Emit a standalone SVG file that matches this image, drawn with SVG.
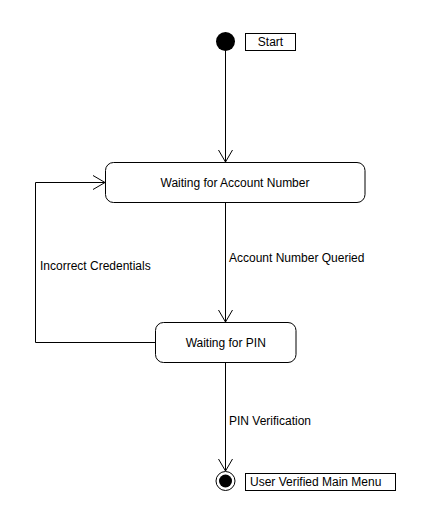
<svg xmlns="http://www.w3.org/2000/svg" width="424" height="523" viewBox="0 0 424 523">
<defs>
<marker id="arr" viewBox="0 0 14 16" refX="13" refY="8" markerWidth="14" markerHeight="16" markerUnits="userSpaceOnUse" orient="auto">
<path d="M1,1 L13,8 L1,15" fill="none" stroke="#000" stroke-width="1"/>
</marker>
<style>
text{font-family:"Liberation Sans",Arial,sans-serif;font-size:12px;fill:#000}
.state{fill:#fff;stroke:#000;stroke-width:1}
.note{fill:#fff;stroke:#000;stroke-width:1}
.edge{fill:none;stroke:#000;stroke-width:1}
</style>
</defs>
<rect width="424" height="523" fill="#fff"/>
<g id="edges">
<path class="edge" d="M225.5,50.5 L225.5,162" marker-end="url(#arr)"/>
<path class="edge" d="M225.5,202.5 L225.5,322" marker-end="url(#arr)"/>
<path class="edge" d="M155.5,342.5 L35.5,342.5 L35.5,182.5 L105,182.5" marker-end="url(#arr)"/>
<path class="edge" d="M225.5,362.5 L225.5,471" marker-end="url(#arr)"/>
<text x="229" y="262">Account Number Queried</text>
<text x="40" y="270">Incorrect Credentials</text>
<text x="229" y="425">PIN Verification</text>
</g>
<g id="start">
<circle cx="225.5" cy="41.5" r="9.5" fill="#000"/>
<rect class="note" x="245.5" y="33.5" width="50" height="17"/>
<text x="270.5" y="46" text-anchor="middle">Start</text>
</g>
<g id="waitAccount">
<rect class="state" x="105.5" y="162.5" width="259.5" height="40" rx="8" ry="8"/>
<text x="235" y="187" text-anchor="middle">Waiting for Account Number</text>
</g>
<g id="waitPin">
<rect class="state" x="155.5" y="322.5" width="140.5" height="40" rx="8" ry="8"/>
<text x="225.75" y="347" text-anchor="middle">Waiting for PIN</text>
</g>
<g id="end">
<circle cx="225.5" cy="481" r="9.5" fill="#fff" stroke="#000" stroke-width="1"/>
<circle cx="225.5" cy="481" r="6.5" fill="#000"/>
<rect class="note" x="245.5" y="473.5" width="150" height="17"/>
<text x="250" y="486">User Verified Main Menu</text>
</g>
</svg>
